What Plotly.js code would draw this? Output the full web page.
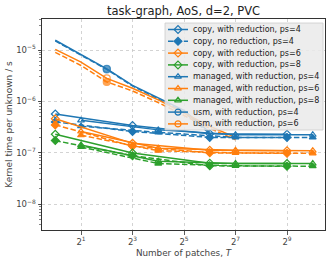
<!DOCTYPE html>
<html>
<head>
<meta charset="utf-8">
<script src="https://cdn.plot.ly/plotly-3.0.1.min.js"></script>
<style>html,body{margin:0;padding:0;background:#fff;}#chart{width:332px;height:264px;}</style>
</head>
<body>
<div id="chart"></div>
<script>
// ---- data ----
const xCopy = [1, 8, 64, 512];
const xManaged = [2, 16, 128, 1024];
const xUsm4 = [1, 2, 4, 8, 16, 32, 64];
const xUsm6 = [1, 2, 4, 8, 16, 32, 64, 128];

const copyRed4 = [5.7e-7, 3.4e-7, 2.35e-7, 2.3e-7];
const copyNoRed4 = [4.0e-7, 2.6e-7, 2.0e-7, 2.0e-7];
const copyRed6 = [4.6e-7, 1.53e-7, 1.12e-7, 1.1e-7];
const copyNoRed6 = [3.5e-7, 1.35e-7, 1.0e-7, 9.8e-8];
const copyRed8 = [2.3e-7, 9.9e-8, 6.3e-8, 6.2e-8];
const copyNoRed8 = [1.73e-7, 8.8e-8, 5.6e-8, 5.5e-8];

const managedRed4 = [4.3e-7, 2.8e-7, 2.25e-7, 2.25e-7];
const managedNoRed4 = [3.3e-7, 2.5e-7, 2.0e-7, 2.0e-7];
const managedRed6 = [2.6e-7, 1.23e-7, 1.12e-7, 1.1e-7];
const managedNoRed6 = [2.2e-7, 1.1e-7, 1.0e-7, 9.8e-8];
const managedRed8 = [1.42e-7, 6.9e-8, 6.2e-8, 6.2e-8];
const managedNoRed8 = [1.3e-7, 6.2e-8, 5.6e-8, 5.5e-8];

const usmRed4 = [1.55e-5, 8.2e-6, 4.3e-6, 2.05e-6, 1.19e-6, 6.7e-7, 2.5e-7];
const usmNoRed4 = [1.5e-5, 8.0e-6, 4.2e-6, 2.0e-6, 1.12e-6, 6.2e-7, 2.35e-7];
const usmRed6 = [1.03e-5, 5.8e-6, 2.8e-6, 1.8e-6, 1.07e-6, 5.9e-7, 3.3e-7, 2.0e-7];
const usmNoRed6 = [9.0e-6, 5.0e-6, 2.4e-6, 1.6e-6, 9.5e-7, 5.3e-7, 3.0e-7, 1.8e-7];
const usmMarkerX = 4;

const xTickVals = [2, 8, 32, 128, 512];
const xTickText = ['2<sup>1</sup>', '2<sup>3</sup>', '2<sup>5</sup>', '2<sup>7</sup>', '2<sup>9</sup>'];
const yTickVals = [1e-8, 1e-7, 1e-6, 1e-5];
const yTickText = ['10<sup>−8</sup>', '10<sup>−7</sup>', '10<sup>−6</sup>', '10<sup>−5</sup>'];

const legendLabels = [
  'copy, with reduction, ps=4',
  'copy, no reduction, ps=4',
  'copy, with reduction, ps=6',
  'copy, with reduction, ps=8',
  'managed, with reduction, ps=4',
  'managed, with reduction, ps=6',
  'managed, with reduction, ps=8',
  'usm, with reduction, ps=4',
  'usm, with reduction, ps=6'
];

// ---- styles ----
const C4 = '#1f77b4', C6 = '#ff7f0e', C8 = '#2ca02c';
const LW = 1.5, MS = 6;
const DASH = '5.5px,2.4px';

function series(x, y, color, dash, symbol) {
  return {x: x, y: y, type: 'scatter', mode: 'lines+markers', showlegend: false,
    line: {color: color, width: LW, dash: dash},
    marker: {symbol: symbol, size: MS, color: color, line: {color: color, width: 1.2}},
    hoverinfo: 'skip'};
}
function usmSeries(x, y, color, dash, symbol) {
  const t = series(x, y, color, dash, symbol);
  t.marker.size = x.map(v => v === usmMarkerX ? MS + 1 : 0);
  return t;
}

const traces = [
  usmSeries(xUsm4, usmNoRed4, C4, DASH, 'circle'),
  usmSeries(xUsm4, usmRed4, C4, 'solid', 'circle-open'),
  usmSeries(xUsm6, usmNoRed6, C6, DASH, 'circle'),
  usmSeries(xUsm6, usmRed6, C6, 'solid', 'circle-open'),
  series(xCopy, copyNoRed4, C4, DASH, 'diamond'),
  series(xManaged, managedNoRed4, C4, DASH, 'triangle-up'),
  series(xCopy, copyRed4, C4, 'solid', 'diamond-open'),
  series(xManaged, managedRed4, C4, 'solid', 'triangle-up-open'),
  series(xCopy, copyNoRed6, C6, DASH, 'diamond'),
  series(xManaged, managedNoRed6, C6, DASH, 'triangle-up'),
  series(xCopy, copyRed6, C6, 'solid', 'diamond-open'),
  series(xManaged, managedRed6, C6, 'solid', 'triangle-up-open'),
  series(xCopy, copyNoRed8, C8, DASH, 'diamond'),
  series(xManaged, managedNoRed8, C8, DASH, 'triangle-up'),
  series(xCopy, copyRed8, C8, 'solid', 'diamond-open'),
  series(xManaged, managedRed8, C8, 'solid', 'triangle-up-open')
];

// ---- custom legend (drawn on an overlay subplot so it sits above the data) ----
const W = 332, H = 264, ML = 42, MR = 7, MT = 19, MB = 34;
const PW = W - ML - MR, PH = H - MT - MB;
const fx = px => (px - ML) / PW;
const fy = py => (H - MB - py) / PH;

const legStyles = [
  [C4, 'solid', 'diamond-open'], [C4, DASH, 'diamond'], [C6, 'solid', 'diamond-open'],
  [C8, 'solid', 'diamond-open'], [C4, 'solid', 'triangle-up-open'], [C6, 'solid', 'triangle-up-open'],
  [C8, 'solid', 'triangle-up-open'], [C4, 'solid', 'circle-open'], [C6, 'solid', 'circle-open']
];
const box = {x0: 165, x1: 323, y0: 23, y1: 130};
traces.push({x: [fx(box.x0), fx(box.x1), fx(box.x1), fx(box.x0), fx(box.x0)],
  y: [fy(box.y0), fy(box.y0), fy(box.y1), fy(box.y1), fy(box.y0)],
  xaxis: 'x2', yaxis: 'y2', type: 'scatter', mode: 'lines', fill: 'toself',
  fillcolor: 'rgba(234,234,234,0.85)', line: {color: '#cccccc', width: 0.8},
  showlegend: false, hoverinfo: 'skip'});
const annotations = [];
legendLabels.forEach((lab, i) => {
  const cy = 29.5 + i * 11.8;
  const [col, dash, sym] = legStyles[i];
  traces.push({x: [fx(168), fx(188)], y: [fy(cy), fy(cy)], xaxis: 'x2', yaxis: 'y2',
    type: 'scatter', mode: 'lines', line: {color: col, width: LW, dash: dash},
    showlegend: false, hoverinfo: 'skip'});
  traces.push({x: [fx(178)], y: [fy(cy)], xaxis: 'x2', yaxis: 'y2', type: 'scatter', mode: 'markers',
    marker: {symbol: sym, size: MS, color: col, line: {color: col, width: 1.2}},
    showlegend: false, hoverinfo: 'skip'});
  annotations.push({x: fx(192), y: fy(cy), xref: 'paper', yref: 'paper', text: lab,
    showarrow: false, xanchor: 'left', yanchor: 'middle', borderpad: 0,
    font: {family: 'DejaVu Sans', size: 8, color: '#222'}});
});

const axisCommon = {showline: true, mirror: true, linecolor: '#333', linewidth: 1,
  ticks: 'outside', ticklen: 3.5, tickcolor: '#333', tickwidth: 0.8,
  gridcolor: '#c8c8c8', griddash: 'dot', gridwidth: 0.8, zeroline: false,
  tickfont: {family: 'DejaVu Sans', size: 8.5, color: '#444'}};

const layout = {
  width: W, height: H,
  margin: {l: ML, r: MR, t: MT, b: MB, pad: 0},
  paper_bgcolor: '#fff', plot_bgcolor: '#fff',
  showlegend: false,
  font: {family: 'DejaVu Sans', color: '#444'},
  title: {text: 'task-graph, AoS, d=2, PVC', x: 0.553, xanchor: 'center', y: 0.957, yanchor: 'middle',
    font: {family: 'DejaVu Sans', size: 11.5, color: '#222'}},
  xaxis: Object.assign({}, axisCommon, {type: 'log',
    range: [Math.log10(Math.pow(2, -0.515)), Math.log10(Math.pow(2, 10.476))],
    tickmode: 'array', tickvals: xTickVals, ticktext: xTickText,
    title: {text: 'Number of patches, <i>T</i>', standoff: 4,
      font: {family: 'DejaVu Sans', size: 8.8, color: '#444'}}}),
  yaxis: Object.assign({}, axisCommon, {type: 'log', range: [-8.5, -4.397],
    tickmode: 'array', tickvals: yTickVals, ticktext: yTickText,
    minor: {ticks: 'outside', ticklen: 2, tickcolor: '#333', tickwidth: 0.6, dtick: 'D1', showgrid: false},
    title: {text: 'Kernel time per unknown / s', standoff: 2,
      font: {family: 'DejaVu Sans', size: 9, color: '#444'}}}),
  xaxis2: {overlaying: 'x', range: [0, 1], visible: false, fixedrange: true},
  yaxis2: {overlaying: 'y', range: [0, 1], visible: false, fixedrange: true},
  annotations: annotations
};

Plotly.newPlot('chart', traces, layout, {displayModeBar: false, staticPlot: true});
</script>
</body>
</html>
